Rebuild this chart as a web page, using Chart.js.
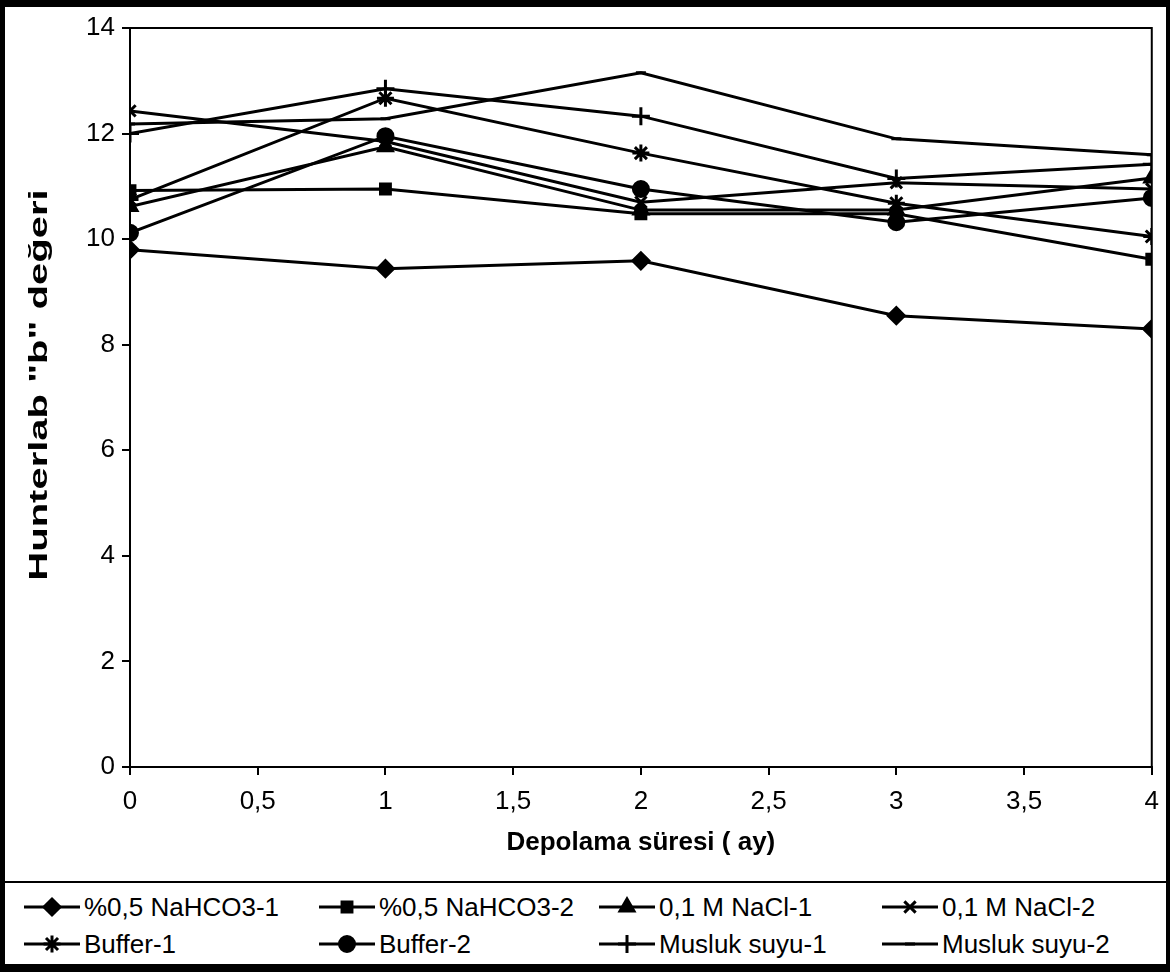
<!DOCTYPE html>
<html>
<head>
<meta charset="utf-8">
<script src="https://cdn.jsdelivr.net/npm/chart.js@4.4.1/dist/chart.umd.min.js"></script>
<style>
  html, body { margin: 0; padding: 0; background: #fff; }
  #wrap { position: relative; width: 1170px; height: 972px; overflow: hidden; font-family: "Liberation Sans", Arial, sans-serif; }
  #frame { position: absolute; left: 0; top: 0; width: 1170px; height: 972px; box-sizing: border-box;
           border-top: 7px solid #000; border-left: 5px solid #000; border-bottom: 8px solid #000; border-right: 4px solid #000; pointer-events: none; }
  #chartBox { position: absolute; left: 0; top: 0; width: 1170px; height: 870px; }
  #legend { position: absolute; left: 0; top: 881px; width: 1170px; height: 90px; border-top: 2px solid #000; }
  .item { position: absolute; height: 36px; display: flex; align-items: center; font-size: 26px; color: #000; white-space: nowrap; }
  .item canvas { margin-right: 2px; }
</style>
</head>
<body>
<div id="wrap">
  <div id="chartBox"><canvas id="chart" width="1170" height="870"></canvas></div>
  <div id="legend"></div>
  <div id="frame"></div>
</div>
<script>
// storage time (months)
const months = [0, 1, 2, 3, 4];
const yTicks = [0, 2, 4, 6, 8, 10, 12, 14];

// Hunterlab "b" values
const nahco3_1 = [9.80, 9.44, 9.59, 8.55, 8.30];
const nahco3_2 = [10.92, 10.95, 10.48, 10.48, 9.62];
const nacl_1   = [10.62, 11.75, 10.55, 10.55, 11.16];
const nacl_2   = [12.43, 11.85, 10.70, 11.07, 10.95];
const buffer_1 = [10.75, 12.67, 11.63, 10.68, 10.05];
const buffer_2 = [10.12, 11.95, 10.95, 10.32, 10.78];
const musluk_1 = [12.00, 12.85, 12.33, 11.15, 11.42];
const musluk_2 = [12.18, 12.28, 13.15, 11.90, 11.60];

const labels = ["%0,5 NaHCO3-1", "%0,5 NaHCO3-2", "0,1 M NaCl-1", "0,1 M NaCl-2",
                "Buffer-1", "Buffer-2", "Musluk suyu-1", "Musluk suyu-2"];
const values = [nahco3_1, nahco3_2, nacl_1, nacl_2, buffer_1, buffer_2, musluk_1, musluk_2];
const styles = ["rectRot", "rect", "triangle", "crossRot", "star", "circle", "cross", "line"];
const radii  = [8, 7, 8, 8, 8.5, 7.5, 9, 5];

const FONT = "'Liberation Sans', Arial, sans-serif";
const yTitle = "Hunterlab \"b\" değeri";

const datasets = labels.map((name, i) => ({
  label: name,
  data: months.map((m, j) => ({ x: m, y: values[i][j] })),
  borderColor: "#000",
  backgroundColor: "#000",
  borderWidth: 3,
  pointStyle: styles[i],
  pointRadius: radii[i],
  pointBackgroundColor: "#000",
  pointBorderColor: "#000",
  pointBorderWidth: 3,
  tension: 0,
  fill: false
}));

// box round the plot area (Excel style)
const plotBox = {
  id: "plotBox",
  beforeDatasetsDraw(chart) {
    const { ctx, chartArea: a } = chart;
    ctx.save();
    ctx.strokeStyle = "#000";
    ctx.lineWidth = 2;
    ctx.strokeRect(a.left, a.top, a.right - a.left, a.bottom - a.top);
    ctx.restore();
  }
};

// y title: the scanned original is stretched along its length
const yTitlePlugin = {
  id: "yTitle",
  afterDraw(chart) {
    const { ctx } = chart;
    ctx.save();
    ctx.translate(40, 385);
    ctx.rotate(-Math.PI / 2);
    ctx.scale(1.6, 1);
    ctx.font = "bold 25px " + FONT;
    ctx.fillStyle = "#000";
    ctx.textAlign = "center";
    ctx.textBaseline = "middle";
    ctx.fillText(yTitle, 0, 0);
    ctx.restore();
  }
};

new Chart(document.getElementById("chart").getContext("2d"), {
  type: "line",
  data: { datasets },
  plugins: [plotBox, yTitlePlugin],
  options: {
    responsive: false,
    animation: false,
    devicePixelRatio: 1,
    layout: { padding: { top: 28, right: 17, left: 0, bottom: 0 } },
    plugins: { legend: { display: false }, tooltip: { enabled: false } },
    scales: {
      x: {
        type: "linear",
        min: 0, max: 4,
        afterFit: s => { s.height = 103; },
        ticks: {
          stepSize: 0.5,
          color: "#000",
          padding: 11,
          font: { family: FONT, size: 26 },
          callback: v => String(v).replace(".", ",")
        },
        grid: { drawOnChartArea: false, drawTicks: true, tickLength: 8, color: "#000", lineWidth: 2 },
        border: { color: "#000", width: 2 },
        title: {
          display: true,
          text: "Depolama süresi ( ay)",
          color: "#000",
          font: { family: FONT, size: 26, weight: "bold" },
          padding: { top: 0, bottom: 12 }
        }
      },
      y: {
        min: 0, max: 14,
        afterFit: s => { s.width = 130; },
        afterBuildTicks: s => { s.ticks = yTicks.map(v => ({ value: v })); },
        ticks: { color: "#000", padding: 7, font: { family: FONT, size: 26 } },
        grid: { drawOnChartArea: false, drawTicks: true, tickLength: 8, color: "#000", lineWidth: 2 },
        border: { color: "#000", width: 2 }
      }
    }
  }
});

// legend below the chart, two rows of four
const colX = [22, 317, 597, 880];
const rowY = [6, 43];
const legend = document.getElementById("legend");
labels.forEach((name, i) => {
  const item = document.createElement("div");
  item.className = "item";
  item.style.left = colX[i % 4] + "px";
  item.style.top = rowY[Math.floor(i / 4)] + "px";
  const c = document.createElement("canvas");
  c.width = 60; c.height = 30;
  const g = c.getContext("2d");
  g.strokeStyle = "#000"; g.fillStyle = "#000"; g.lineWidth = 3;
  g.beginPath(); g.moveTo(2, 15); g.lineTo(58, 15); g.stroke();
  Chart.helpers.drawPoint(g, { pointStyle: styles[i], radius: radii[i], rotation: 0, borderWidth: 3 }, 30, 15);
  item.appendChild(c);
  const t = document.createElement("span");
  t.textContent = name;
  item.appendChild(t);
  legend.appendChild(item);
});
</script>
</body>
</html>
